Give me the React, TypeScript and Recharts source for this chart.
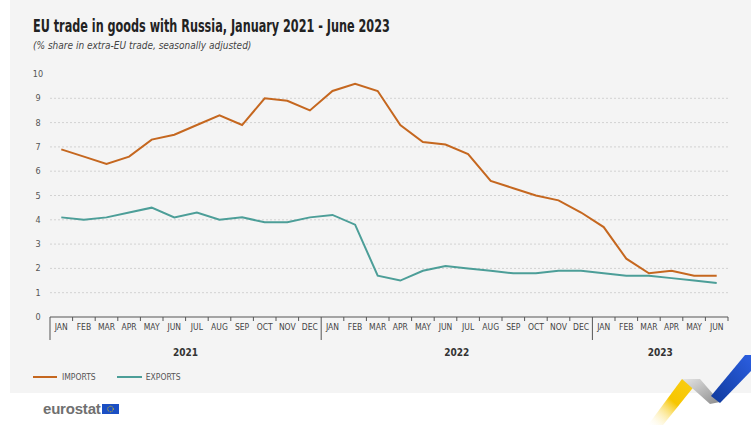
import React from "react";
import {
  LineChart,
  Line,
  XAxis,
  YAxis,
  ReferenceLine,
} from "recharts";

const months = [
  "JAN", "FEB", "MAR", "APR", "MAY", "JUN", "JUL", "AUG", "SEP", "OCT", "NOV", "DEC",
  "JAN", "FEB", "MAR", "APR", "MAY", "JUN", "JUL", "AUG", "SEP", "OCT", "NOV", "DEC",
  "JAN", "FEB", "MAR", "APR", "MAY", "JUN",
];

const importsShare = [
  6.9, 6.6, 6.3, 6.6, 7.3, 7.5, 7.9, 8.3, 7.9, 9.0, 8.9, 8.5,
  9.3, 9.6, 9.3, 7.9, 7.2, 7.1, 6.7, 5.6, 5.3, 5.0, 4.8, 4.3,
  3.7, 2.4, 1.8, 1.9, 1.7, 1.7,
];

const exportsShare = [
  4.1, 4.0, 4.1, 4.3, 4.5, 4.1, 4.3, 4.0, 4.1, 3.9, 3.9, 4.1,
  4.2, 3.8, 1.7, 1.5, 1.9, 2.1, 2.0, 1.9, 1.8, 1.8, 1.9, 1.9,
  1.8, 1.7, 1.7, 1.6, 1.5, 1.4,
];

const years = [
  { label: "2021", start: 0, count: 12 },
  { label: "2022", start: 12, count: 12 },
  { label: "2023", start: 24, count: 6 },
];

const yTicks = [0, 1, 2, 3, 4, 5, 6, 7, 8, 9, 10];
const gridValues = [1, 2, 3, 4, 5, 6, 7, 8, 9];

const data = months.map((m, i) => ({
  key: `${i}-${m}`,
  imports: importsShare[i],
  exports: exportsShare[i],
}));

const IMPORT_COLOR = "#c5671f";
const EXPORT_COLOR = "#4c9e98";
const NARROW = "'Liberation Sans Narrow', 'DejaVu Sans Condensed', sans-serif";

const CHART_W = 751;
const MARGIN_LEFT = 10;
const Y_W = 40;
const MARGIN_RIGHT = 23;
const BAND = (CHART_W - MARGIN_LEFT - Y_W - MARGIN_RIGHT) / months.length;

function MonthTick(props: any) {
  const { x, y, index } = props;
  const left = x - BAND / 2;
  const yearStart = years.find((yr) => yr.start === index);
  const yearMid = years.find((yr) => yr.start + Math.floor(yr.count / 2) === index);
  const last = index === months.length - 1;
  return (
    <g>
      <line
        x1={left}
        x2={left}
        y1={y}
        y2={yearStart ? y + 23 : y + 4}
        stroke="#555"
        strokeWidth={1}
      />
      {last && (
        <line x1={x + BAND / 2} x2={x + BAND / 2} y1={y} y2={y + 4} stroke="#555" />
      )}
      <text
        x={x}
        y={y + 13}
        textAnchor="middle"
        fontSize={8.5}
        fontFamily={NARROW}
        fill="#444"
      >
        {months[index]}
      </text>
      {yearMid && (
        <text
          x={left}
          y={y + 39}
          textAnchor="middle"
          fontSize={10}
          fontWeight="bold"
          fontFamily={NARROW}
          fill="#333"
        >
          {yearMid.label}
        </text>
      )}
    </g>
  );
}

function ValueTick(props: any) {
  const { y, payload } = props;
  return (
    <text
      x={38}
      y={y + 3}
      textAnchor="middle"
      fontSize={9}
      fontFamily={NARROW}
      fill="#555"
    >
      {payload.value}
    </text>
  );
}

export default function App() {
  return (
    <div
      style={{
        position: "absolute",
        left: 0,
        top: 0,
        width: 751,
        height: 425,
        background: "#ffffff",
        overflow: "hidden",
        fontFamily: "'Liberation Sans', Arial, sans-serif",
      }}
    >
      <div
        style={{
          position: "absolute",
          left: 10,
          top: 0,
          width: 741,
          height: 393,
          background: "#f4f4f4",
        }}
      />
      <div
        style={{
          position: "absolute",
          left: 33,
          top: 16,
          fontFamily: NARROW,
          fontWeight: "bold",
          fontSize: 17,
          color: "#222",
          whiteSpace: "nowrap",
          transform: "scaleX(0.735)",
          transformOrigin: "left top",
        }}
      >
        EU trade in goods with Russia, January 2021 - June 2023
      </div>
      <div
        style={{
          position: "absolute",
          left: 33,
          top: 40,
          fontFamily: NARROW,
          fontStyle: "italic",
          fontSize: 10,
          color: "#444",
          whiteSpace: "nowrap",
        }}
      >
        (% share in extra-EU trade, seasonally adjusted)
      </div>

      <div style={{ position: "absolute", left: 0, top: 0 }}>
        <LineChart
          width={CHART_W}
          height={425}
          data={data}
          margin={{ top: 74, right: MARGIN_RIGHT, bottom: 0, left: MARGIN_LEFT }}
        >
          {gridValues.map((v) => (
            <ReferenceLine
              key={v}
              y={v}
              stroke="#d2d2d2"
              strokeDasharray="2 2"
            />
          ))}
          <XAxis
            dataKey="key"
            scale="band"
            interval={0}
            height={108}
            tickSize={0}
            tickMargin={0}
            tickLine={false}
            axisLine={{ stroke: "#555", strokeWidth: 1 }}
            tick={<MonthTick />}
          />
          <YAxis
            width={Y_W}
            domain={[0, 10]}
            ticks={yTicks}
            axisLine={false}
            tickLine={false}
            tick={<ValueTick />}
          />
          <Line
            type="linear"
            dataKey="imports"
            stroke={IMPORT_COLOR}
            strokeWidth={2}
            dot={false}
            isAnimationActive={false}
          />
          <Line
            type="linear"
            dataKey="exports"
            stroke={EXPORT_COLOR}
            strokeWidth={2}
            dot={false}
            isAnimationActive={false}
          />
        </LineChart>
      </div>

      <div
        style={{
          position: "absolute",
          left: 33,
          top: 372,
          display: "flex",
          alignItems: "center",
          fontFamily: NARROW,
          fontSize: 8.5,
          color: "#555",
        }}
      >
        <span style={{ width: 24, height: 2, background: IMPORT_COLOR, display: "inline-block", marginRight: 5 }} />
        <span style={{ marginRight: 21 }}>IMPORTS</span>
        <span style={{ width: 25, height: 2, background: EXPORT_COLOR, display: "inline-block", marginRight: 4 }} />
        <span>EXPORTS</span>
      </div>

      <div
        style={{
          position: "absolute",
          left: 43,
          top: 400,
          display: "flex",
          alignItems: "center",
        }}
      >
        <span
          style={{
            fontFamily: "'Liberation Sans', Arial, sans-serif",
            fontWeight: "bold",
            fontSize: 15,
            color: "#707070",
            letterSpacing: -0.2,
          }}
        >
          eurostat
        </span>
        <svg width={17} height={10} style={{ marginLeft: 1 }}>
          <rect x={0} y={0} width={17} height={10} fill="#1b4fc4" />
          <circle cx={8.5} cy={5} r={2.8} fill="none" stroke="#f5d000" strokeWidth={1} strokeDasharray="1 1" />
        </svg>
      </div>

      <svg
        width={751}
        height={425}
        style={{ position: "absolute", left: 0, top: 0, pointerEvents: "none" }}
      >
        <defs>
          <linearGradient id="yellowRibbon" x1="0" y1="1" x2="1" y2="0">
            <stop offset="0%" stopColor="#ffffff" stopOpacity={0.1} />
            <stop offset="50%" stopColor="#f7c600" />
            <stop offset="100%" stopColor="#f9cf1a" />
          </linearGradient>
          <linearGradient id="greyRibbon" x1="0" y1="0" x2="1" y2="1">
            <stop offset="0%" stopColor="#e6e6e6" />
            <stop offset="100%" stopColor="#8c8c8c" />
          </linearGradient>
          <linearGradient id="blueRibbon" x1="0" y1="1" x2="1" y2="0">
            <stop offset="0%" stopColor="#103a9c" />
            <stop offset="100%" stopColor="#2b5ee0" />
          </linearGradient>
        </defs>
        <polygon points="648,425 663,425 700,379 682,379" fill="url(#yellowRibbon)" />
        <polygon points="682,379 700,379 720,402 710,404" fill="url(#greyRibbon)" />
        <polygon points="711,396 720,403 751,371 751,355 745,355" fill="url(#blueRibbon)" />
      </svg>
    </div>
  );
}
